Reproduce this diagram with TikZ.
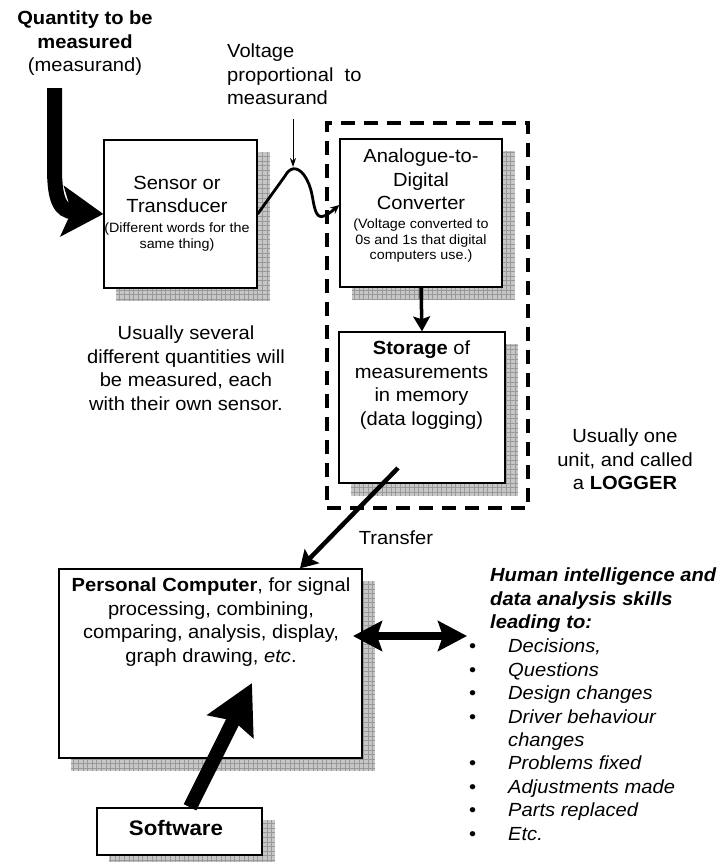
\documentclass[tikz,border=0pt]{standalone}
\usepackage{fontspec}
\setmainfont{Liberation Sans}[FakeStretch=1.06]
\usetikzlibrary{arrows.meta}
\pgfdeclarelayer{bg}
\pgfsetlayers{bg,main}
\newcommand\bodyfont{\fontsize{19}{23.5}\selectfont}
\newcommand\smallfnt{\fontsize{13.5}{15.6}\selectfont}
\newcommand\listfont{\fontsize{19}{23.4}\selectfont}
\tikzset{
  box/.style={draw, fill=white, line width=1.3pt, inner sep=0pt},
  txt/.style={inner sep=0pt, font=\bodyfont, align=center, anchor=north},
  subtxt/.style={inner sep=0pt, font=\smallfnt, align=center, anchor=north},
  bigcurve/.style={line width=15pt, -{Stealth[length=41pt, width=50pt, inset=9pt]}},
  wavearrow/.style={line width=2.8pt, line join=round, -{Stealth[length=9pt, width=8pt]}},
  thinarrow/.style={line width=1pt, -{Stealth[length=9pt, width=6pt]}},
  medarrow/.style={line width=3.5pt, -{Stealth[length=15pt, width=17pt, inset=3pt]}},
  transferarrow/.style={line width=4.5pt, -{Stealth[length=17pt, width=20pt, inset=3pt]}},
  fatarrow/.style={line width=14pt, -{Stealth[length=48pt, width=50pt, inset=6pt]}},
  dblarrow/.style={line width=8pt, {Stealth[length=29pt, width=30pt, inset=5pt]}-{Stealth[length=29pt, width=30pt, inset=5pt]}},
  loggerbox/.style={draw, line width=4.5pt, dash pattern=on 14pt off 9pt, inner sep=0pt}
}
\newcommand\shadowof[1]{%
  \begin{scope}
    \clip ([shift={(12.5,12.5)}]#1.north west) rectangle ([shift={(12.5,12.5)}]#1.south east);
    \fill[black!22] ([shift={(12.5,12.5)}]#1.north west) rectangle ([shift={(12.5,12.5)}]#1.south east);
    \draw[black!40, line width=0.4pt, step=4.6pt] ([shift={(12.5,12.5)}]#1.north west) grid ([shift={(12.5,12.5)}]#1.south east);
  \end{scope}}
\begin{document}
\begin{tikzpicture}[x=1pt,y=-1pt]
\useasboundingbox (0,0) rectangle (722,862);

% boxes
\node[box, minimum width=153pt, minimum height=148pt] (sensor) at (180.5,214) {};
\node[box, minimum width=162pt, minimum height=148pt] (adc) at (421,213) {};
\node[box, minimum width=166pt, minimum height=151pt] (storage) at (422,407.5) {};
\node[box, minimum width=303pt, minimum height=189pt] (pc) at (210.5,663.5) {};
\node[box, minimum width=165pt, minimum height=47pt] (software) at (179.5,831.5) {};
\node[loggerbox, minimum width=201pt, minimum height=385pt] (logger) at (427.5,315.5) {};

\begin{pgfonlayer}{bg}
  \fill[white] (0,0) rectangle (722,862);
  \shadowof{sensor}
  \shadowof{adc}
  \shadowof{storage}
  \shadowof{pc}
  \shadowof{software}
\end{pgfonlayer}

% texts
\node[txt] (qty) at (85,11) {\textbf{Quantity to be}\\\textbf{measured}\\(measurand)};
\node[txt, align=left, anchor=north west] (volt) at (227,44) {Voltage\\proportional\ \ to\\measurand};
\node[txt] (sensortxt) at (177,176) {Sensor or\\Transducer};
\node[subtxt] (sensorsub) at (177,222.5) {(Different words for the\\same thing)};
\node[txt] (adctxt) at (421,149) {Analogue-to-\\Digital\\Converter};
\node[subtxt] (adcsub) at (421,218.5) {(Voltage converted to\\0s and 1s that digital\\computers use.)};
\node[txt] (storetxt) at (421.5,341) {\textbf{Storage} of\\measurements\\in memory\\(data logging)};
\node[txt] (loggertxt) at (625,429) {Usually one\\unit, and called\\a \textbf{LOGGER}};
\node[txt] (transfertxt) at (396,531) {Transfer};
\node[txt] (several) at (186,326) {Usually several\\different quantities will\\be measured, each\\with their own sensor.};
\node[txt] (pctxt) at (211,578) {\textbf{Personal Computer}, for signal\\processing, combining,\\comparing, analysis, display,\\graph drawing, \textit{etc}.};
\node[inner sep=0pt, font=\fontsize{21}{24}\selectfont\bfseries, anchor=base] (swtxt) at (176,835) {Software};
\node[inner sep=0pt, font=\bodyfont\bfseries\itshape, align=left, anchor=north west] (human) at (490,568) {Human intelligence and\\data analysis skills\\leading to:};
\node[inner sep=0pt, font=\listfont\itshape, align=left, anchor=north west] (list) at (469,639) {%
\makebox[39pt][l]{\upshape •}Decisions,\\
\makebox[39pt][l]{\upshape •}Questions\\
\makebox[39pt][l]{\upshape •}Design changes\\
\makebox[39pt][l]{\upshape •}Driver behaviour\\
\hspace*{39pt}changes\\
\makebox[39pt][l]{\upshape •}Problems fixed\\
\makebox[39pt][l]{\upshape •}Adjustments made\\
\makebox[39pt][l]{\upshape •}Parts replaced\\
\makebox[39pt][l]{\upshape •}Etc.};

% connectors
\coordinate (qstart) at (54.5,88);
\draw[bigcurve] (qstart) -- (54.5,168) .. controls (54.5,200) and (60,211) .. (sensor.west);

\draw[wavearrow] (sensor.east) -- (285,176) .. controls (290,167) and (297,166) .. (304,175)
  .. controls (313,188) and (312,200) .. (315,209) .. controls (318,221) and (325,217) .. ([yshift=8pt]adc.west);

\coordinate (voltarrowstart) at (293,119);
\coordinate (voltarrowend) at (293,167);
\draw[thinarrow] (voltarrowstart) -- (voltarrowend);

\draw[medarrow] (adc.south) -- (storage.north);

\coordinate (transferstart) at (398,468);
\draw[transferarrow] (transferstart) -- ([xshift=89.5pt]pc.north);

\coordinate (swtip) at (252,683);
\draw[fatarrow] ([xshift=10.5pt]software.north) -- (swtip);

\coordinate (dblleft) at (353,636);
\coordinate (dblright) at (467,636);
\draw[dblarrow] (dblleft) -- (dblright);
\end{tikzpicture}
\end{document}
